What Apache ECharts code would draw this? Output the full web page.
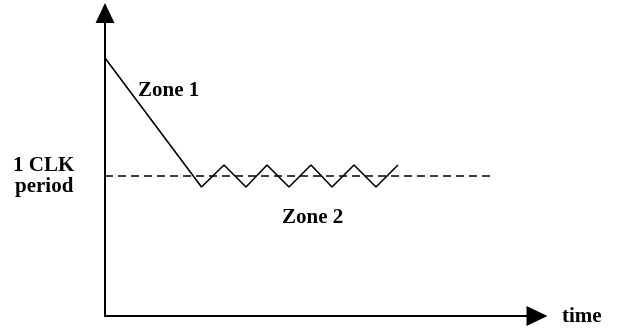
<!DOCTYPE html>
<html>
<head>
<meta charset="utf-8">
<script src="https://cdn.jsdelivr.net/npm/echarts@6/dist/echarts.min.js"></script>
<style>
  html, body { margin: 0; padding: 0; background: #fff; }
  #chart { width: 620px; height: 329px; }
</style>
</head>
<body>
<div id="chart"></div>
<script>
// time axis and delay values
const timeVals = [0, 96.5, 119, 141, 162, 184, 206, 227, 249, 271, 293]
const delayVals = [258, 129, 151, 129, 151, 129, 151, 129, 151, 129, 151]
const clkTime = [0, 387]
const clkPeriod = [140, 140]

const lineData = timeVals.map((t, i) => [t, delayVals[i]])
const clkData = clkTime.map((t, i) => [t, clkPeriod[i]])

const font = 'bold 21px "Liberation Serif", "Times New Roman", serif'
const chart = echarts.init(document.getElementById('chart'), null, { renderer: 'canvas' })

const option = {
  backgroundColor: '#fff',
  animation: false,
  grid: {
    left: 105,
    top: 13,
    width: 432,
    height: 303
  },
  xAxis: {
    type: 'value',
    min: 0,
    max: 432,
    axisLine: {
      show: true,
      lineStyle: { color: '#000', width: 2 },
      symbol: ['none', 'triangle'],
      symbolSize: [20, 21]
    },
    axisTick: { show: false },
    axisLabel: { show: false },
    splitLine: { show: false }
  },
  yAxis: {
    type: 'value',
    min: 0,
    max: 303,
    axisLine: {
      show: true,
      lineStyle: { color: '#000', width: 2 },
      symbol: ['none', 'triangle'],
      symbolSize: [19, 20]
    },
    axisTick: { show: false },
    axisLabel: { show: false },
    splitLine: { show: false }
  },
  series: [
    {
      name: 'delay',
      type: 'line',
      data: lineData,
      symbol: 'none',
      lineStyle: { color: '#000', width: 1.6 }
    },
    {
      name: '1 CLK period',
      type: 'line',
      data: clkData,
      symbol: 'none',
      lineStyle: { color: '#000', width: 1.6, type: [8, 5] }
    }
  ],
  graphic: [
    { type: 'text', left: 138, top: 80, style: { text: 'Zone 1', font: font, fill: '#000' } },
    { type: 'text', left: 282, top: 207, style: { text: 'Zone 2', font: font, fill: '#000' } },
    { type: 'text', left: 13, top: 155, style: { text: '1 CLK', font: font, fill: '#000' } },
    { type: 'text', left: 15, top: 176, style: { text: 'period', font: font, fill: '#000' } },
    { type: 'text', left: 562, top: 306, style: { text: 'time', font: font, fill: '#000' } }
  ]
}

chart.setOption(option)
</script>
</body>
</html>
